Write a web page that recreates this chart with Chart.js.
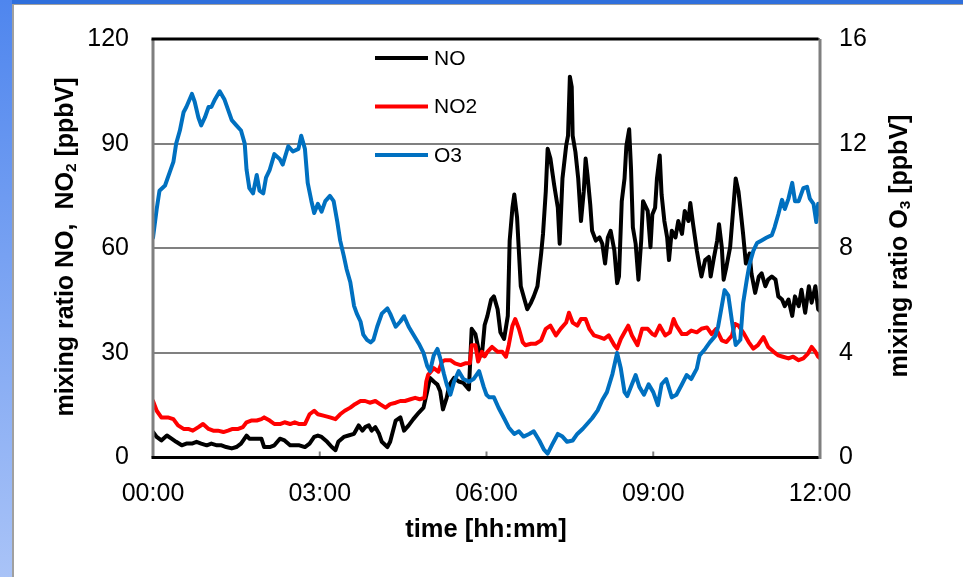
<!DOCTYPE html>
<html>
<head>
<meta charset="utf-8">
<script src="https://cdn.jsdelivr.net/npm/chart.js@4/dist/chart.umd.min.js"></script>
<style>
  html, body { margin: 0; padding: 0; background: #fff; }
  body { width: 963px; height: 577px; position: relative; overflow: hidden; }
  .bandTop { position: absolute; left: 0; top: 0; width: 963px; height: 4px; background: #2f6fdc; }
  .bandLeft { position: absolute; left: 0; top: 0; width: 12px; height: 577px;
              background: linear-gradient(#4f86ee, #a9c3f7); }
  .lineTop { position: absolute; left: 12px; top: 4px; width: 951px; height: 1px; background: #a0a0a0; }
  .lineLeft { position: absolute; left: 12px; top: 4px; width: 2px; height: 573px; background: #a0a0a0; }
  canvas { position: absolute; left: 0; top: 0; }
</style>
</head>
<body>
<div class="bandTop"></div>
<div class="bandLeft"></div>
<div class="lineTop"></div>
<div class="lineLeft"></div>
<canvas id="myChart" width="963" height="577"></canvas>
<script>
// minutes after 00:00 and mixing ratios
const noTimes = [0,4,9,15,20,25,31,36,42,47,52,58,63,69,74,79,85,90,95,101,104,108,112,117,120,126,131,137,142,148,153,158,164,169,174,178,182,188,193,197,200,206,211,217,222,226,229,233,236,240,244,247,253,256,262,267,271,276,281,287,292,296,299,303,307,310,313,317,320,325,330,335,341,344,348,352,355,358,361,365,368,372,375,379,383,385,388,390,393,397,401,404,408,411,415,419,421,424,426,429,433,437,439,442,446,448,450,452,453,456,459,462,465,467,469,472,474,478,482,485,488,491,494,498,501,503,506,509,511,514,516,518,521,524,527,529,534,537,539,542,544,547,549,552,555,557,560,564,567,571,574,578,580,583,587,590,592,596,600,602,605,609,611,614,616,619,623,627,629,632,634,637,640,644,646,650,654,657,661,664,668,672,675,679,682,686,690,693,697,700,704,708,711,715,718,720];
const noValues = [7.3,5.9,4.9,6.3,5.4,4.5,3.5,4.0,4.0,4.5,4.0,3.5,4.0,3.5,3.5,3.0,2.6,3.0,4.0,6.3,5.4,5.4,5.4,5.4,3.0,3.0,3.5,5.4,4.9,3.5,3.5,3.5,3.0,4.0,5.9,6.3,5.9,4.5,3.0,2.1,4.5,5.9,6.3,6.8,9.2,7.7,8.7,9.2,7.7,8.7,6.8,4.5,3.0,4.5,10.6,11.5,7.7,9.2,11.0,12.9,14.3,19.0,22.8,21.8,20.9,19.0,13.8,17.1,20.9,22.8,21.8,21.4,19.5,36.9,35.4,30.3,29.3,38.0,40.6,45.3,46.2,42.5,35.9,34.0,40.6,62.2,71.6,75.4,68.8,49.1,45.3,42.5,44.4,46.2,49.1,58.5,64.1,76.3,88.5,85.7,78.2,71.6,61.3,80.0,89.4,92.3,109.2,106.3,92.3,87.6,80.0,67.8,76.3,85.7,81.0,72.5,65.0,62.2,63.1,61.3,55.6,63.1,65.0,59.4,50.0,51.9,73.5,80.0,89.4,94.1,82.9,66.0,61.3,51.0,62.2,73.5,70.7,60.3,69.7,71.6,80.0,86.6,75.4,67.8,63.1,56.6,65.0,63.1,67.8,64.1,70.7,67.8,73.0,66.9,59.4,54.7,51.9,56.6,57.5,51.9,56.6,62.2,66.9,60.3,51.0,54.7,60.3,73.5,80.0,76.3,71.6,64.1,55.6,58.5,52.8,47.2,51.9,52.8,49.1,51.0,51.9,51.0,46.2,45.3,43.4,45.3,40.6,46.2,43.4,48.1,41.5,49.1,44.4,49.1,42.5,42.0];

const no2Times = [0,4,9,16,22,27,33,38,43,49,54,60,65,70,76,81,86,92,97,101,106,112,117,120,126,131,137,142,148,153,158,164,169,174,178,184,191,197,202,207,213,218,224,229,234,240,245,251,256,262,267,272,278,283,288,293,295,297,303,308,312,315,321,326,332,337,342,344,348,351,355,358,361,366,372,377,381,384,388,391,395,399,402,408,413,419,424,429,435,440,446,449,453,458,462,467,471,476,482,487,492,498,501,505,509,513,517,523,528,534,539,542,547,553,558,562,565,571,576,581,587,592,598,603,608,614,619,625,628,632,637,643,648,653,659,664,670,675,680,686,691,697,702,707,711,715,718,720];
const no2Values = [16.2,13.4,11.5,11.5,11.0,9.2,8.2,8.2,7.7,8.7,9.6,8.2,7.7,7.7,7.3,7.7,8.2,8.2,8.7,10.1,10.6,10.6,11.0,11.5,10.6,9.6,9.6,10.1,9.6,10.1,9.6,9.6,12.4,13.4,12.4,12.0,11.5,11.0,12.4,13.4,14.3,15.3,16.2,16.2,15.7,16.2,15.3,14.3,15.3,15.7,16.2,16.2,16.7,17.1,16.7,17.1,21.8,23.7,25.6,24.6,27.5,27.9,27.9,27.0,26.5,27.0,27.0,32.2,32.2,27.5,30.3,29.0,30.3,31.7,30.3,30.3,28.9,32.2,37.8,39.7,36.9,33.1,32.2,32.6,32.6,33.6,36.9,37.8,35.0,36.9,38.7,41.5,38.7,37.8,39.7,39.7,36.9,35.0,34.5,34.0,35.0,32.2,31.2,34.0,35.9,37.8,35.0,32.2,36.9,36.9,35.4,35.0,37.8,35.0,35.9,39.7,37.8,35.4,35.4,36.4,35.9,36.9,37.3,35.4,36.9,33.6,33.1,35.0,38.3,37.8,35.9,33.1,31.2,32.2,34.5,31.7,30.3,29.3,28.9,28.4,28.9,27.9,28.4,29.8,31.7,30.3,28.9,28.5];

const o3Times = [0,4,7,13,18,22,25,29,33,36,42,45,49,52,56,60,63,67,72,77,81,85,90,95,99,101,104,108,112,115,119,122,126,131,137,140,146,151,157,160,164,167,171,174,178,182,186,191,195,199,202,206,209,213,217,220,224,227,231,235,238,242,247,253,256,262,267,271,276,281,287,292,296,299,303,307,310,314,317,321,325,330,335,341,346,352,357,360,363,368,373,379,384,390,395,400,406,411,417,422,426,431,437,442,447,453,458,464,469,474,480,485,490,496,501,505,509,512,517,521,525,530,535,540,545,549,554,560,565,571,576,581,587,590,596,601,607,610,614,617,621,625,629,634,637,641,644,648,652,657,662,668,671,675,679,682,686,690,693,697,702,706,709,713,716,718,720];
const o3Values = [8.4,9.5,10.2,10.4,10.9,11.3,12.0,12.5,13.2,13.4,13.9,13.6,13.0,12.7,13.0,13.4,13.4,13.7,14.0,13.7,13.3,12.9,12.7,12.5,12.0,11.0,10.3,10.1,10.8,10.2,10.1,10.7,11.0,11.6,11.4,11.2,11.9,11.7,11.8,12.3,11.8,10.5,9.8,9.35,9.7,9.4,9.8,10.0,9.8,9.0,8.3,7.7,7.2,6.7,5.8,5.5,5.2,4.7,4.5,4.4,4.5,5.0,5.5,5.7,5.5,5.0,5.2,5.4,5.0,4.7,4.35,4.0,3.5,3.3,3.9,4.15,3.8,3.2,2.8,2.4,2.9,3.3,3.0,2.9,3.0,3.3,2.7,2.4,2.3,2.3,1.9,1.5,1.15,0.9,1.0,0.8,0.9,1.0,0.65,0.3,0.15,0.5,0.9,0.8,0.6,0.65,0.9,1.1,1.3,1.5,1.8,2.2,2.5,3.2,4.0,3.4,2.5,2.35,2.8,3.15,2.7,2.4,2.8,2.5,2.0,2.8,3.0,2.3,2.4,2.8,3.15,3.0,3.4,3.9,4.15,4.4,4.65,5.0,5.8,6.4,6.2,5.2,4.3,4.5,5.9,6.8,7.4,7.9,8.2,8.3,8.4,8.5,8.8,9.3,9.85,9.5,9.9,10.5,9.8,9.8,10.3,10.35,9.9,9.7,9.0,9.7,9.4];

const timeTicks = [0, 180, 360, 540, 720];
const leftTicks = [0, 30, 60, 90, 120];
const rightTicks = [0, 4, 8, 12, 16];

const FONT = '"Liberation Sans", Arial, sans-serif';

function pts(times, values) {
  return times.map((t, i) => ({ x: t, y: values[i] }));
}

function hhmm(v) {
  const h = Math.floor(v / 60), m = v % 60;
  return String(h).padStart(2, '0') + ':' + String(m).padStart(2, '0');
}

// text with a subscript part, optionally rotated
function richText(ctx, parts, x, y, rot, size) {
  ctx.save();
  ctx.translate(x, y);
  ctx.rotate(rot);
  ctx.textBaseline = 'middle';
  ctx.textAlign = 'left';
  let total = 0;
  parts.forEach(p => {
    ctx.font = 'bold ' + (p.sub ? size * 0.62 : size) + 'px ' + FONT;
    p.w = ctx.measureText(p.t).width;
    total += p.w;
  });
  let cx = -total / 2;
  parts.forEach(p => {
    ctx.font = 'bold ' + (p.sub ? size * 0.62 : size) + 'px ' + FONT;
    ctx.fillText(p.t, cx, p.sub ? size * 0.22 : 0);
    cx += p.w;
  });
  ctx.restore();
}

const decor = {
  id: 'decor',
  afterDraw(chart) {
    const { ctx, chartArea: a, scales } = chart;
    ctx.save();

    // small inner tick marks on the time axis
    ctx.strokeStyle = '#808080';
    ctx.lineWidth = 2;
    timeTicks.slice(1, -1).forEach(t => {
      const x = scales.x.getPixelForValue(t);
      ctx.beginPath();
      ctx.moveTo(x, a.bottom);
      ctx.lineTo(x, a.bottom - 6);
      ctx.stroke();
    });

    // plot frame
    ctx.lineWidth = 3;
    ctx.strokeStyle = '#7f7f7f';
    ctx.beginPath();
    ctx.moveTo(a.left, a.top); ctx.lineTo(a.left, a.bottom);
    ctx.moveTo(a.right, a.top); ctx.lineTo(a.right, a.bottom + 1.5);
    ctx.stroke();
    ctx.strokeStyle = '#000';
    ctx.beginPath();
    ctx.moveTo(a.left - 1.5, a.top); ctx.lineTo(a.right - 1.5, a.top);
    ctx.moveTo(a.left - 1.5, a.bottom); ctx.lineTo(a.right - 1.5, a.bottom);
    ctx.stroke();

    // legend inside the plot
    ctx.font = '21px ' + FONT;
    ctx.textBaseline = 'middle';
    ctx.fillStyle = '#000';
    chart.data.datasets.forEach((ds, i) => {
      const y = 58 + i * 48.5;
      ctx.strokeStyle = ds.borderColor;
      ctx.lineWidth = 4;
      ctx.beginPath();
      ctx.moveTo(375, y);
      ctx.lineTo(428, y);
      ctx.stroke();
      ctx.fillText(ds.label, 434, y + 1);
    });

    // axis titles
    ctx.fillStyle = '#000';
    richText(ctx, [{ t: 'mixing ratio NO,  NO' }, { t: '2', sub: true }, { t: ' [ppbV]' }],
      66, 247, -Math.PI / 2, 25);
    richText(ctx, [{ t: 'mixing ratio O' }, { t: '3', sub: true }, { t: ' [ppbV]' }],
      900, 246, -Math.PI / 2, 25);
    richText(ctx, [{ t: 'time [hh:mm]' }], 486, 530, 0, 25.5);

    ctx.restore();
  }
};

const ctx = document.getElementById('myChart').getContext('2d');
new Chart(ctx, {
  type: 'line',
  data: {
    datasets: [
      { label: 'NO', data: pts(noTimes, noValues), borderColor: '#000000', yAxisID: 'y', order: 3 },
      { label: 'NO2', data: pts(no2Times, no2Values), borderColor: '#ff0000', yAxisID: 'y', order: 2 },
      { label: 'O3', data: pts(o3Times, o3Values), borderColor: '#0070c0', yAxisID: 'y1', order: 1 }
    ]
  },
  options: {
    responsive: false,
    animation: false,
    layout: { padding: { top: 32, left: 0, right: 0, bottom: 0 } },
    elements: {
      line: { borderWidth: 4, tension: 0, borderJoinStyle: 'round', borderCapStyle: 'round' },
      point: { radius: 0 }
    },
    plugins: { legend: { display: false }, tooltip: { enabled: false } },
    scales: {
      x: {
        type: 'linear',
        min: 0, max: 720,
        afterFit(s) { s.height = 119.5; },
        afterBuildTicks(s) { s.ticks = timeTicks.map(v => ({ value: v })); },
        ticks: { callback: v => hhmm(v), color: '#000', font: { family: FONT, size: 25 },
                 padding: 14, maxRotation: 0, autoSkip: false },
        grid: { display: false },
        border: { display: false }
      },
      y: {
        position: 'left',
        min: 0, max: 120,
        afterFit(s) { s.width = 153; },
        afterBuildTicks(s) { s.ticks = leftTicks.map(v => ({ value: v })); },
        ticks: { color: '#000', font: { family: FONT, size: 25 }, padding: 24 },
        grid: { color: '#808080', lineWidth: 2, drawTicks: false },
        border: { display: false }
      },
      y1: {
        position: 'right',
        min: 0, max: 16,
        afterFit(s) { s.width = 143; },
        afterBuildTicks(s) { s.ticks = rightTicks.map(v => ({ value: v })); },
        ticks: { color: '#000', font: { family: FONT, size: 25 }, padding: 19 },
        grid: { display: false, drawTicks: false },
        border: { display: false }
      }
    }
  },
  plugins: [decor]
});
</script>
</body>
</html>
